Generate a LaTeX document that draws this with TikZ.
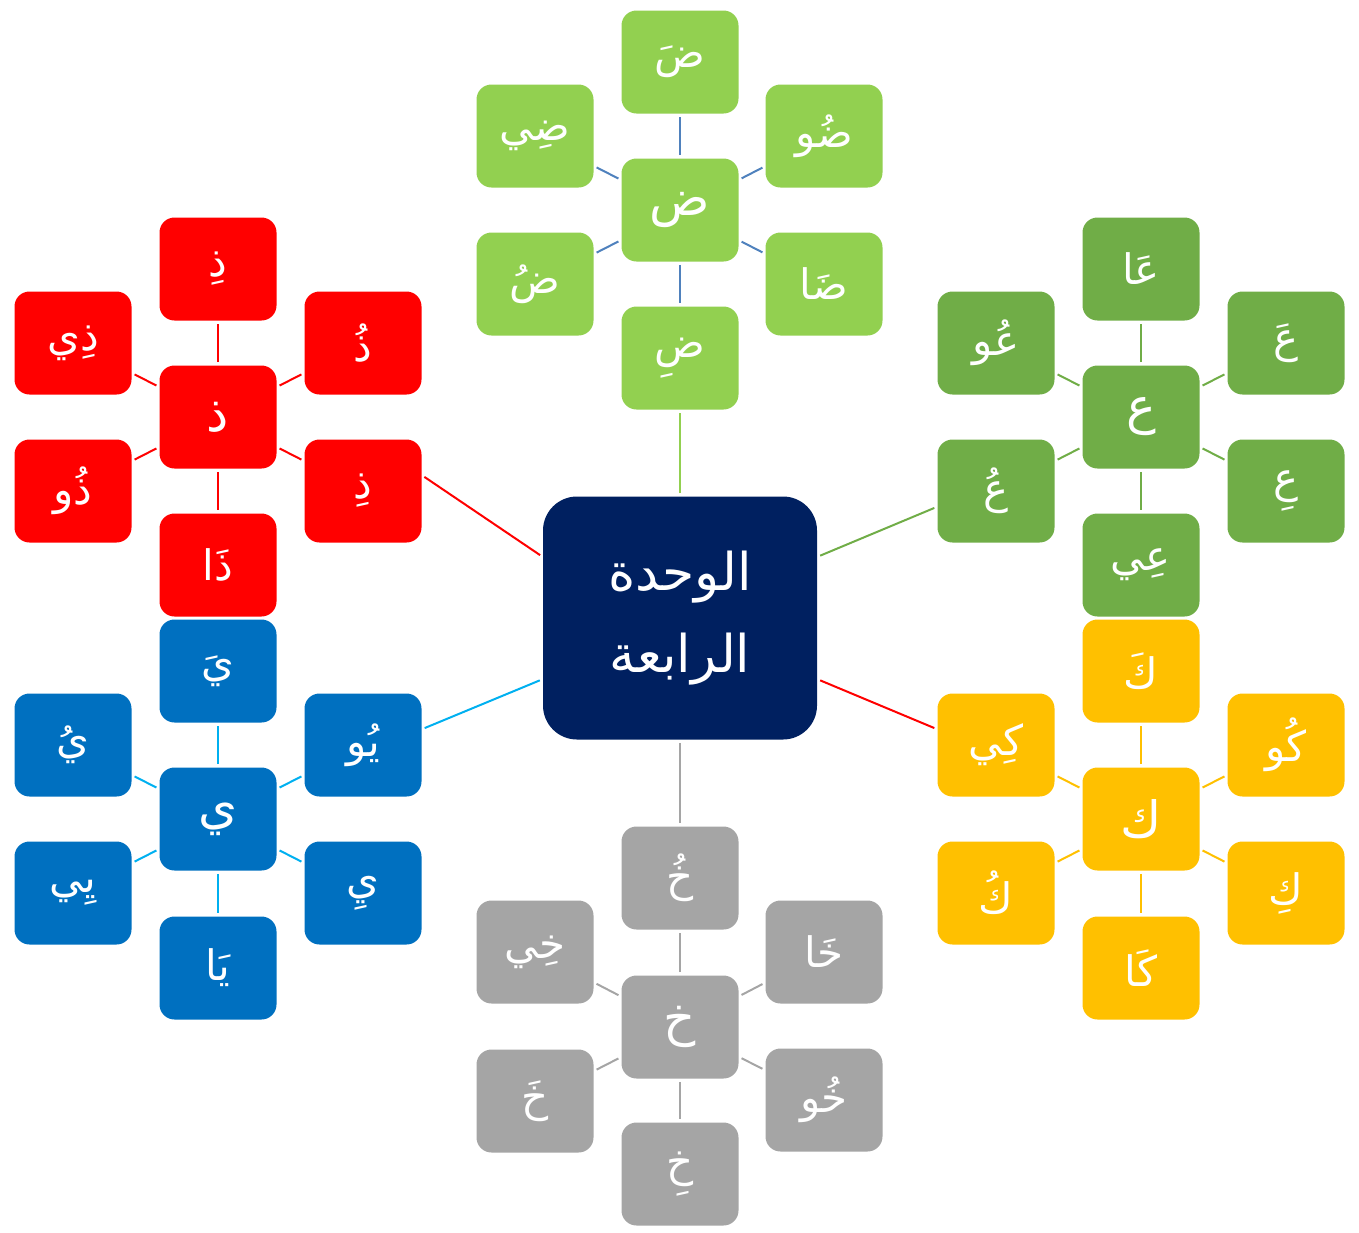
\documentclass[tikz,border=0pt]{standalone}
\usepackage{fontspec}
\TeXXeTstate=1
\newfontfamily\arabicfont[Script=Arabic]{DejaVu Sans}
\newcommand\artxt[1]{{\arabicfont\beginR #1\endR}}
\definecolor{cLG}{HTML}{92D050}
\definecolor{cG}{HTML}{70AD47}
\definecolor{cGold}{HTML}{FFC000}
\definecolor{cGray}{HTML}{A5A5A5}
\definecolor{cBlue}{HTML}{0070C0}
\definecolor{cRed}{HTML}{FF0000}
\definecolor{cNavy}{HTML}{002060}
\definecolor{cSky}{HTML}{00B0F0}
\definecolor{cSteel}{HTML}{4F81BD}
\begin{document}
\begin{tikzpicture}[x=0.5pt,y=-0.5pt,
  box/.style={rounded corners=7.5pt, minimum width=58.5pt, minimum height=51.5pt,
    inner sep=0pt, text=white, font=\fontsize{21}{25}\selectfont},
  hub/.style={font=\fontsize{25}{29}\selectfont},
  bLG/.style={box, fill=cLG},
  bG/.style={box, fill=cG},
  bGold/.style={box, fill=cGold},
  bGray/.style={box, fill=cGray},
  bBlue/.style={box, fill=cBlue},
  bRed/.style={box, fill=cRed},
  rootbox/.style={rounded corners=17pt, minimum width=137pt, minimum height=121.5pt,
    inner sep=0pt, fill=cNavy, text=white, align=center,
    font=\fontsize{26}{41}\selectfont},
  link/.style={line width=1pt, shorten <=1.5pt, shorten >=1.5pt}
]
\useasboundingbox (0,0) rectangle (1359,1232);

% root
\node[rootbox] (root) at (680,618) {\artxt{الوحدة}\\\artxt{الرابعة}};

% top cluster (dad)
\node[bLG,hub] (t0) at (680,210) {\artxt{ض}};
\node[bLG] (t1) at (680,62)  {\artxt{ضَ}};
\node[bLG] (t2) at (680,358) {\artxt{ضِ}};
\node[bLG] (t3) at (535,136) {\artxt{ضِي}};
\node[bLG] (t4) at (535,284) {\artxt{ضُ}};
\node[bLG] (t5) at (824,136) {\artxt{ضُو}};
\node[bLG] (t6) at (824,284) {\artxt{ضَا}};

% right cluster (ain)
\node[bG,hub] (e0) at (1141,417) {\artxt{ع}};
\node[bG] (e1) at (1141,269) {\artxt{عَا}};
\node[bG] (e2) at (1141,565) {\artxt{عِي}};
\node[bG] (e3) at (996,343)  {\artxt{عُو}};
\node[bG] (e4) at (996,491)  {\artxt{عُ}};
\node[bG] (e5) at (1286,343) {\artxt{عَ}};
\node[bG] (e6) at (1286,491) {\artxt{عِ}};

% gold cluster (kaf)
\node[bGold,hub] (k0) at (1141,819) {\artxt{ك}};
\node[bGold] (k1) at (1141,671) {\artxt{كَ}};
\node[bGold] (k2) at (1141,968) {\artxt{كَا}};
\node[bGold] (k3) at (996,745)  {\artxt{كِي}};
\node[bGold] (k4) at (996,893)  {\artxt{كُ}};
\node[bGold] (k5) at (1286,745) {\artxt{كُو}};
\node[bGold] (k6) at (1286,893) {\artxt{كِ}};

% gray cluster (kha)
\node[bGray,hub] (x0) at (680,1027) {\artxt{خ}};
\node[bGray] (x1) at (680,878)  {\artxt{خُ}};
\node[bGray] (x2) at (680,1174) {\artxt{خِ}};
\node[bGray] (x3) at (535,952)  {\artxt{خِي}};
\node[bGray] (x4) at (535,1101) {\artxt{خَ}};
\node[bGray] (x5) at (824,952)  {\artxt{خَا}};
\node[bGray] (x6) at (824,1100) {\artxt{خُو}};

% blue cluster (ya)
\node[bBlue,hub] (y0) at (218,819) {\artxt{ي}};
\node[bBlue] (y1) at (218,671) {\artxt{يَ}};
\node[bBlue] (y2) at (218,968) {\artxt{يَا}};
\node[bBlue] (y3) at (73,745)  {\artxt{يُ}};
\node[bBlue] (y4) at (73,893)  {\artxt{يِي}};
\node[bBlue] (y5) at (363,745) {\artxt{يُو}};
\node[bBlue] (y6) at (363,893) {\artxt{يِ}};

% red cluster (dhal)
\node[bRed,hub] (d0) at (218,417) {\artxt{ذ}};
\node[bRed] (d1) at (218,269) {\artxt{ذِ}};
\node[bRed] (d2) at (218,565) {\artxt{ذَا}};
\node[bRed] (d3) at (73,343)  {\artxt{ذِي}};
\node[bRed] (d4) at (73,491)  {\artxt{ذُو}};
\node[bRed] (d5) at (363,343) {\artxt{ذُ}};
\node[bRed] (d6) at (363,491) {\artxt{ذِ}};

% internal links
\foreach \cl/\col in {t/cSteel, e/cG, k/cGold, x/cGray, y/cSky, d/cRed}{
  \foreach \i in {1,...,6}{
    \draw[link, draw=\col] (\cl0) -- (\cl\i);
  }
}

% root links
\draw[link, draw=cLG]   (root.north) -- (t2.south);
\draw[link, draw=cG]    (root.24)    -- (e4.195);
\draw[link, draw=cRed]  (root.336)   -- (k3.165);
\draw[link, draw=cGray] (root.south) -- (x1.north);
\draw[link, draw=cSky]  (root.204)   -- (y5.15);
\draw[link, draw=cRed]  (root.156)   -- (d6.15);
\end{tikzpicture}
\end{document}
